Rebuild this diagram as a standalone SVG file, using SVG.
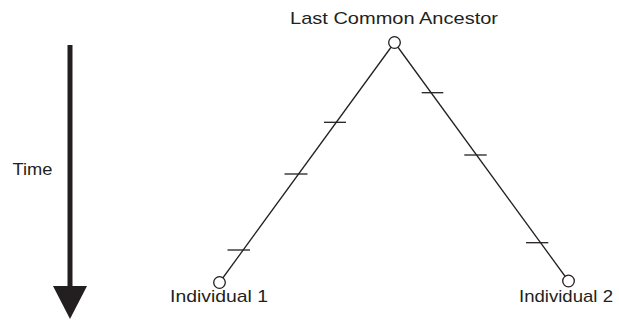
<svg xmlns="http://www.w3.org/2000/svg" width="619" height="320" viewBox="0 0 619 320">
<style>
.lbl{font-family:"Liberation Sans",Arial,sans-serif;font-size:17px;fill:#231f20}
.ln{stroke:#231f20;stroke-width:1.3;fill:none}
.nd{stroke:#231f20;stroke-width:1.3;fill:#fff}
</style>
<rect width="619" height="320" fill="#fff"/>
<g id="time-axis">
<line x1="70" y1="45" x2="70" y2="290" stroke="#231f20" stroke-width="5"/>
<polygon points="53,286 87,286 70,319" fill="#231f20"/>
<text class="lbl" x="12.5" y="175" textLength="40" lengthAdjust="spacingAndGlyphs">Time</text>
</g>
<g id="connectors">
<line class="ln" x1="219.5" y1="282.5" x2="394.5" y2="42.5"/>
<line class="ln" x1="394.5" y1="42.5" x2="568.5" y2="281"/>
<line class="ln" x1="227.5" y1="250" x2="250" y2="250"/>
<line class="ln" x1="284.5" y1="174" x2="307.5" y2="174"/>
<line class="ln" x1="324" y1="122.3" x2="346" y2="122.3"/>
<line class="ln" x1="421.7" y1="92.7" x2="443.3" y2="92.7"/>
<line class="ln" x1="464.3" y1="155" x2="486.7" y2="155"/>
<line class="ln" x1="526" y1="242.7" x2="548.3" y2="242.7"/>
</g>
<g id="ancestor">
<circle class="nd" cx="394.5" cy="42.5" r="5.8"/>
<text class="lbl" x="290" y="24" textLength="208" lengthAdjust="spacingAndGlyphs">Last Common Ancestor</text>
</g>
<g id="individual1">
<circle class="nd" cx="219.5" cy="282.5" r="5.8"/>
<text class="lbl" x="170" y="301.7" textLength="98" lengthAdjust="spacingAndGlyphs">Individual 1</text>
</g>
<g id="individual2">
<circle class="nd" cx="568.5" cy="281" r="5.8"/>
<text class="lbl" x="519" y="301.7" textLength="94" lengthAdjust="spacingAndGlyphs">Individual 2</text>
</g>
</svg>
